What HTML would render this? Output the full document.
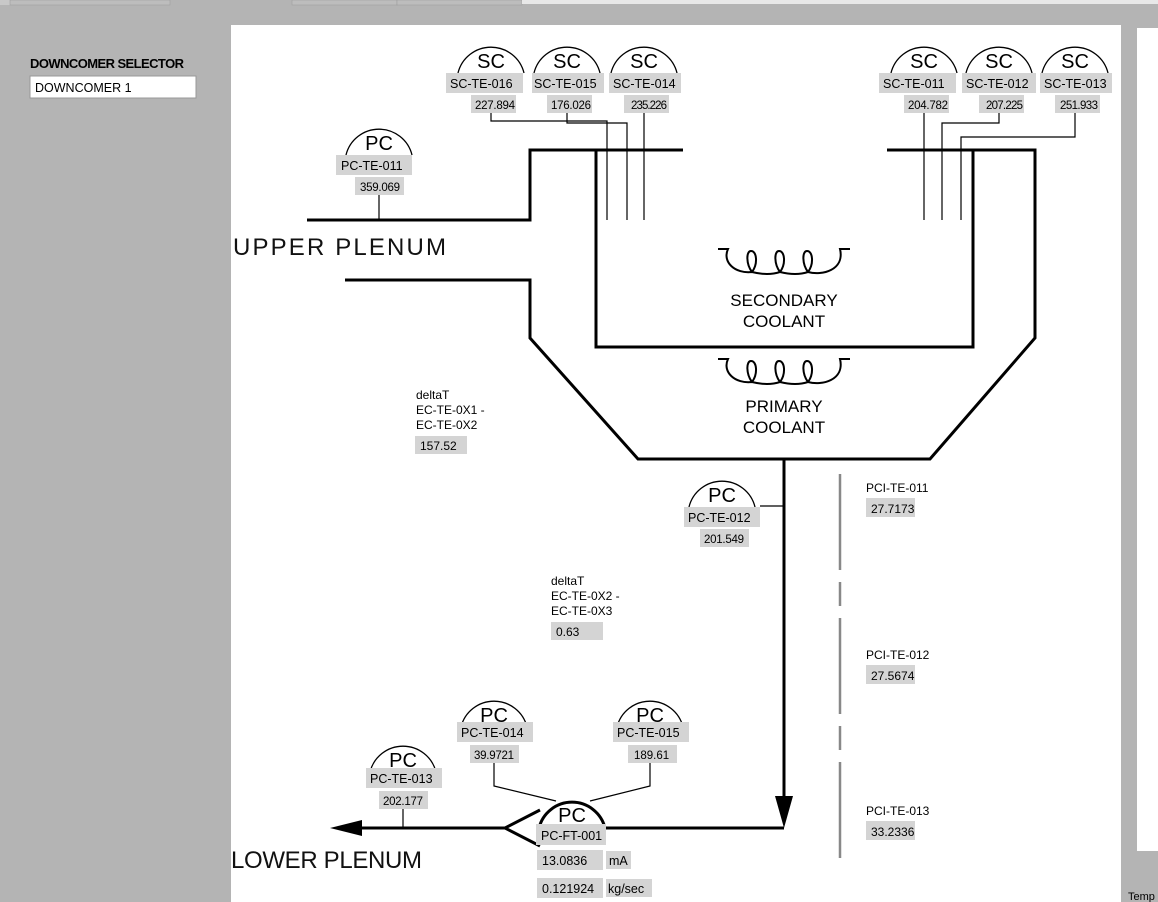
<!DOCTYPE html>
<html><head><meta charset="utf-8"><style>
body{margin:0;width:1158px;height:902px;background:#b4b4b4;overflow:hidden;position:relative;font-family:"Liberation Sans",sans-serif}
svg{position:absolute;left:0;top:0}
</style></head><body>
<svg width="1158" height="902" xmlns="http://www.w3.org/2000/svg" font-family="Liberation Sans, sans-serif">
<rect x="0" y="0" width="60" height="5" fill="#c8c8c8"/>
<rect x="10" y="0" width="160" height="5" fill="#bdbdbd" stroke="#999" stroke-width="0.5"/>
<rect x="292" y="0" width="105" height="5" fill="#bdbdbd" stroke="#999" stroke-width="0.5"/>
<rect x="397" y="0" width="125" height="5" fill="#bdbdbd" stroke="#999" stroke-width="0.5"/>
<rect x="522" y="0" width="636" height="4" fill="#e8e8e8"/>
<rect x="231" y="25" width="890" height="877" fill="#fff"/>
<rect x="1137" y="28" width="21" height="823" fill="#fff"/>
<text x="1128" y="900" font-size="11">Temp</text>
<text x="30" y="68" font-size="13" font-weight="bold" textLength="154">DOWNCOMER SELECTOR</text>
<rect x="30" y="76" width="166" height="22" fill="#fff" stroke="#999"/>
<text x="35" y="92" font-size="12.5">DOWNCOMER 1</text>

<g fill="none" stroke="#000" stroke-width="3">
<path d="M307,220 H530 V150 H683"/>
<path d="M345,280 H530 V338 L638,459 H930 L1035,338 V150 H887"/>
<path d="M596,150 V347 H973 V150"/>
<path d="M784,459 V800"/>
<path d="M784,828 H606"/>
<path d="M540,810 L505,828 L540,846"/>
<path d="M505,828 H355"/>
</g>
<path d="M775,796 H793 L784,828 Z" fill="#000"/>
<path d="M330,828 L362,820 V836 Z" fill="#000"/>

<g fill="none" stroke="#000" stroke-width="1.2">
<path d="M491,113 V121 H607 V220"/>
<path d="M567,113 V123 H627 V220"/>
<path d="M644,113 V220"/>
<path d="M924,113 V220"/>
<path d="M999,113 V123 H942 V220"/>
<path d="M1075,113 V137 H961 V220"/>
<path d="M379,195 V220"/>
<path d="M760,506 H784"/>
<path d="M403,809 V828"/>
<path d="M494,763 V786 L556,801"/>
<path d="M650,763 V786 L590,801"/>
</g>
<g stroke="#888" stroke-width="2.5">
<line x1="840" y1="474" x2="840" y2="570"/><line x1="840" y1="582" x2="840" y2="606"/>
<line x1="840" y1="618" x2="840" y2="714"/><line x1="840" y1="726" x2="840" y2="750"/>
<line x1="840" y1="762" x2="840" y2="858"/>
</g>

<g fill="none" stroke="#000" stroke-width="2">
<path id="coil" d="M718,249 H728 C722,262 735,274 752,272 C746,264 746,251 751,251 C757,251 758,264 752,272 C764,275 774,274 780,272 C774,264 774,251 779,251 C785,251 786,264 780,272 C792,275 802,274 808,272 C802,264 802,251 807,251 C813,251 814,264 808,272 C822,276 845,270 840,249 H850"/>
<use href="#coil" y="110"/>
</g>

<g font-size="17" text-anchor="middle" fill="#000">
<text x="784" y="306">SECONDARY</text><text x="784" y="327">COOLANT</text>
<text x="784" y="412">PRIMARY</text><text x="784" y="433">COOLANT</text>
</g>
<text x="233" y="255" font-size="24" fill="#111" textLength="213" lengthAdjust="spacing">UPPER  PLENUM</text>
<text x="231" y="868" font-size="24" fill="#111" textLength="191" lengthAdjust="spacing">LOWER  PLENUM</text>

<g font-size="12" fill="#000">
<text x="416" y="399">deltaT</text><text x="416" y="414">EC-TE-0X1 -</text><text x="416" y="429">EC-TE-0X2</text>
<rect x="415" y="436" width="52" height="18" fill="#d4d4d4"/><text x="420" y="450">157.52</text>
<text x="551" y="585">deltaT</text><text x="551" y="600">EC-TE-0X2 -</text><text x="551" y="615">EC-TE-0X3</text>
<rect x="551" y="622" width="52" height="18" fill="#d4d4d4"/><text x="556" y="636">0.63</text>
<text x="866" y="492">PCI-TE-011</text><rect x="866" y="498" width="49" height="19" fill="#d4d4d4"/><text x="871" y="513">27.7173</text>
<text x="866" y="659">PCI-TE-012</text><rect x="866" y="665" width="49" height="19" fill="#d4d4d4"/><text x="871" y="680">27.5674</text>
<text x="866" y="815">PCI-TE-013</text><rect x="866" y="821" width="49" height="19" fill="#d4d4d4"/><text x="871" y="836">33.2336</text>
</g>

<g font-size="12.5" fill="#000">
<g transform="translate(491,47)"><path d="M-33,26 A34,34 0 0 1 33,26" fill="none" stroke="#000" stroke-width="1.3"/><text x="0" y="21" font-size="20" text-anchor="middle">SC</text><rect x="-45" y="26" width="77" height="20" fill="#d4d4d4"/><text x="-41" y="41">SC-TE-016</text><rect x="-20" y="48" width="45" height="18" fill="#d4d4d4"/><text x="-16" y="62" font-size="11.5" textLength="40">227.894</text></g>
<g transform="translate(567,47)"><path d="M-33,26 A34,34 0 0 1 33,26" fill="none" stroke="#000" stroke-width="1.3"/><text x="0" y="21" font-size="20" text-anchor="middle">SC</text><rect x="-35" y="26" width="72" height="20" fill="#d4d4d4"/><text x="-33" y="41">SC-TE-015</text><rect x="-20" y="48" width="45" height="18" fill="#d4d4d4"/><text x="-16" y="62" font-size="11.5" textLength="40">176.026</text></g>
<g transform="translate(644,47)"><path d="M-33,26 A34,34 0 0 1 33,26" fill="none" stroke="#000" stroke-width="1.3"/><text x="0" y="21" font-size="20" text-anchor="middle">SC</text><rect x="-35" y="26" width="72" height="20" fill="#d4d4d4"/><text x="-31" y="41">SC-TE-014</text><rect x="-20" y="48" width="45" height="18" fill="#d4d4d4"/><text x="-13" y="62" font-size="11.5" textLength="36">235.226</text></g>
<g transform="translate(924,47)"><path d="M-33,26 A34,34 0 0 1 33,26" fill="none" stroke="#000" stroke-width="1.3"/><text x="0" y="21" font-size="20" text-anchor="middle">SC</text><rect x="-45" y="26" width="77" height="20" fill="#d4d4d4"/><text x="-41" y="41">SC-TE-011</text><rect x="-20" y="48" width="45" height="18" fill="#d4d4d4"/><text x="-16" y="62" font-size="11.5" textLength="40">204.782</text></g>
<g transform="translate(999,47)"><path d="M-33,26 A34,34 0 0 1 33,26" fill="none" stroke="#000" stroke-width="1.3"/><text x="0" y="21" font-size="20" text-anchor="middle">SC</text><rect x="-37" y="26" width="74" height="20" fill="#d4d4d4"/><text x="-33" y="41">SC-TE-012</text><rect x="-20" y="48" width="45" height="18" fill="#d4d4d4"/><text x="-13" y="62" font-size="11.5" textLength="37">207.225</text></g>
<g transform="translate(1075,47)"><path d="M-33,26 A34,34 0 0 1 33,26" fill="none" stroke="#000" stroke-width="1.3"/><text x="0" y="21" font-size="20" text-anchor="middle">SC</text><rect x="-35" y="26" width="72" height="20" fill="#d4d4d4"/><text x="-31" y="41">SC-TE-013</text><rect x="-20" y="48" width="45" height="18" fill="#d4d4d4"/><text x="-15" y="62" font-size="11.5" textLength="38">251.933</text></g>

<g transform="translate(379,129)"><path d="M-33,26 A34,34 0 0 1 33,26" fill="none" stroke="#000" stroke-width="1.3"/><text x="0" y="21" font-size="20" text-anchor="middle">PC</text><rect x="-43" y="26" width="76" height="20" fill="#d4d4d4"/><text x="-38" y="41">PC-TE-011</text><rect x="-24" y="48" width="49" height="18" fill="#d4d4d4"/><text x="-19" y="62" font-size="11.5" textLength="40">359.069</text></g>
<g transform="translate(722,481)"><path d="M-33,26 A34,34 0 0 1 33,26" fill="none" stroke="#000" stroke-width="1.3"/><text x="0" y="21" font-size="20" text-anchor="middle">PC</text><rect x="-38" y="26" width="76" height="20" fill="#d4d4d4"/><text x="-34" y="41">PC-TE-012</text><rect x="-22" y="48" width="49" height="18" fill="#d4d4d4"/><text x="-18" y="62" font-size="11.5" textLength="40">201.549</text></g>
<g transform="translate(403,746)"><path d="M-33,26 A34,34 0 0 1 33,26" fill="none" stroke="#000" stroke-width="1.3"/><text x="0" y="21" font-size="20" text-anchor="middle">PC</text><rect x="-37" y="22" width="76" height="20" fill="#d4d4d4"/><text x="-33" y="37">PC-TE-013</text><rect x="-24" y="45" width="49" height="18" fill="#d4d4d4"/><text x="-20" y="59" font-size="11.5" textLength="40">202.177</text></g>
<g transform="translate(494,701)"><path d="M-33,26 A34,34 0 0 1 33,26" fill="none" stroke="#000" stroke-width="1.3"/><text x="0" y="21" font-size="20" text-anchor="middle">PC</text><rect x="-37" y="21" width="76" height="20" fill="#d4d4d4"/><text x="-33" y="36">PC-TE-014</text><rect x="-24" y="44" width="49" height="18" fill="#d4d4d4"/><text x="-20" y="58" font-size="11.5" textLength="40">39.9721</text></g>
<g transform="translate(650,701)"><path d="M-33,26 A34,34 0 0 1 33,26" fill="none" stroke="#000" stroke-width="1.3"/><text x="0" y="21" font-size="20" text-anchor="middle">PC</text><rect x="-37" y="21" width="76" height="20" fill="#d4d4d4"/><text x="-33" y="36">PC-TE-015</text><rect x="-22" y="44" width="49" height="18" fill="#d4d4d4"/><text x="-16" y="58" font-size="11.5">189.61</text></g>
<g transform="translate(572,800)"><path d="M-33,28 A34,34 0 0 1 33,28" fill="none" stroke="#000" stroke-width="3"/><text x="0" y="22" font-size="20" text-anchor="middle">PC</text><rect x="-36" y="24" width="70" height="21" fill="#d4d4d4"/><text x="-31" y="40">PC-FT-001</text></g>
<rect x="537" y="850" width="66" height="20" fill="#d4d4d4"/><text x="542" y="865">13.0836</text>
<rect x="606" y="851" width="25" height="18" fill="#d4d4d4"/><text x="609" y="865">mA</text>
<rect x="537" y="878" width="66" height="20" fill="#d4d4d4"/><text x="542" y="893">0.121924</text>
<rect x="606" y="879" width="46" height="18" fill="#d4d4d4"/><text x="608" y="893">kg/sec</text>
</g>
</svg>
</body></html>
